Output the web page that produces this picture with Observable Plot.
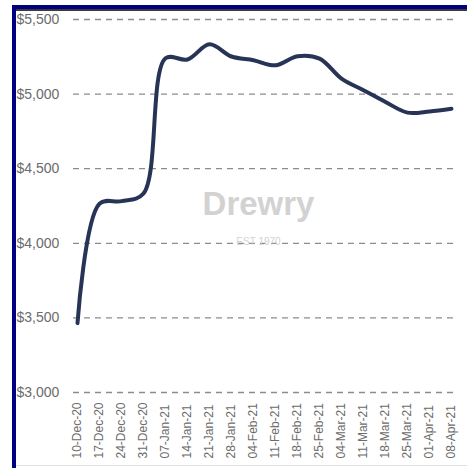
<!DOCTYPE html>
<html>
<head>
<meta charset="utf-8">
<script src="https://cdn.jsdelivr.net/npm/d3@7"></script>
<script src="https://cdn.jsdelivr.net/npm/@observablehq/plot@0.6"></script>
<style>
  html, body { margin: 0; padding: 0; background: #fff; }
  #wrap { position: relative; width: 467px; height: 468px; overflow: hidden; background: #fff; }
  #wrap svg { position: absolute; left: 0; top: 0; }
  .bar { position: absolute; }
</style>
</head>
<body>
<div id="wrap">
  <div class="bar" style="left:12px;top:5px;width:455px;height:4px;background:#000080;"></div>
  <div class="bar" style="left:16px;top:9px;width:451px;height:2px;background:#3a3a3a;"></div>
  <div class="bar" style="left:12px;top:5px;width:4px;height:463px;background:#000080;"></div>
  <div class="bar" style="left:16px;top:465px;width:451px;height:1px;background:#e0e0e0;"></div>
</div>
<script>
const dates = ["10-Dec-20","17-Dec-20","24-Dec-20","31-Dec-20","07-Jan-21","14-Jan-21","21-Jan-21","28-Jan-21","04-Feb-21","11-Feb-21","18-Feb-21","25-Feb-21","04-Mar-21","11-Mar-21","18-Mar-21","25-Mar-21","01-Apr-21","08-Apr-21"];
const rates = [3465, 4265, 4283, 4334, 5240, 5232, 5334, 5252, 5227, 5193, 5254, 5238, 5104, 5026, 4947, 4876, 4884, 4902];
const yTicks = [3000, 3500, 4000, 4500, 5000, 5500];

const data = dates.map((d, i) => ({date: d, rate: rates[i]}));
const fmt = d => "$" + d3.format(",")(d);

const chart = Plot.plot({
  width: 467,
  height: 468,
  marginLeft: 73,
  marginRight: 12,
  marginTop: 19,
  marginBottom: 76,
  style: {background: "transparent", fontFamily: "'Liberation Sans', Arial, sans-serif"},
  x: {type: "point", domain: dates, padding: 0, axis: null},
  y: {domain: [3000, 5500], axis: null},
  marks: [
    Plot.ruleY(yTicks, {stroke: "#8c8c8c", strokeWidth: 1.3, strokeDasharray: "6,5"}),
    Plot.text(["Drewry"], {frameAnchor: "middle", dx: -6, dy: -2, fontSize: 33, fontWeight: "bold", fill: "#d2d2d2"}),
    Plot.text(["EST 1970"], {frameAnchor: "middle", dx: -6, dy: 36, fontSize: 10, fill: "#d2d2d2", letterSpacing: "2px"}),
    Plot.axisY({ticks: yTicks, tickFormat: fmt, tickSize: 0, tickPadding: 0, textAnchor: "start", dx: -57, fontSize: 14, fill: "#6b6b6b", label: null}),
    Plot.text(dates, {x: d => d, frameAnchor: "bottom", rotate: -90, textAnchor: "start", lineAnchor: "middle", dy: 66, fontSize: 12, fill: "#6b6b6b"}),
    Plot.line(data, {x: "date", y: "rate", stroke: "#283456", strokeWidth: 4, curve: "catmull-rom", strokeLinecap: "round", strokeLinejoin: "round"})
  ]
});
document.getElementById("wrap").prepend(chart);
</script>
</body>
</html>
